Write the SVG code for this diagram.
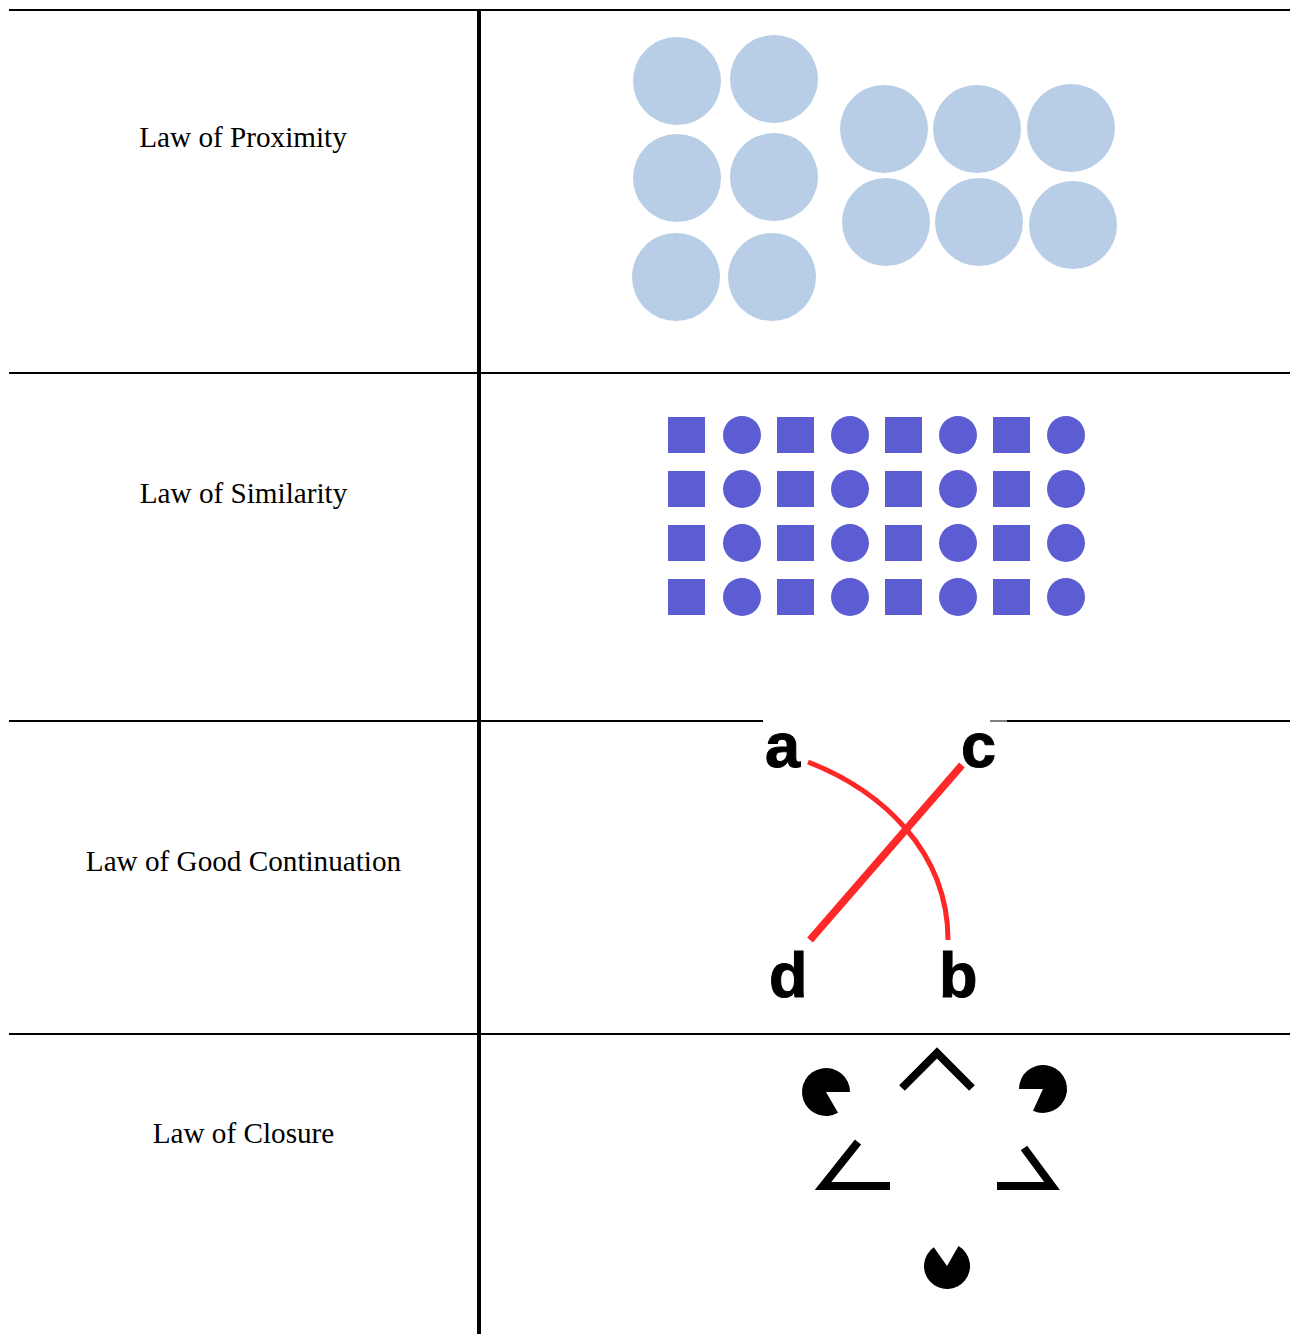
<svg xmlns="http://www.w3.org/2000/svg" width="1293" height="1334" viewBox="0 0 1293 1334">
<style>
.lbl{font-family:"Liberation Serif","Times New Roman",serif;font-size:29.2px;fill:#000;text-anchor:middle}
.hl{stroke:#000;stroke-width:2}
.vl{stroke:#000;stroke-width:4}
.pc{fill:#b8cee7}
.sq{fill:#5d5dd3}
.let{font-family:"Liberation Sans",Arial,sans-serif;font-weight:bold;font-size:63px;fill:#000;stroke:#000;stroke-width:1}
.red{fill:none;stroke:#ff2828;stroke-linecap:butt}
.chev{fill:none;stroke:#000;stroke-width:8;stroke-linejoin:miter}
</style>
<rect width="1293" height="1334" fill="#fff"/>
<g id="grid">
<line class="hl" x1="9" y1="10" x2="1290" y2="10"/>
<line class="hl" x1="9" y1="373" x2="1290" y2="373"/>
<line class="hl" x1="9" y1="721" x2="763" y2="721"/>
<line stroke="#000" stroke-width="1" x1="990" y1="721" x2="1007" y2="721"/>
<line class="hl" x1="1007" y1="721" x2="1290" y2="721"/>
<line class="hl" x1="9" y1="1034" x2="1290" y2="1034"/>
<line class="vl" x1="479" y1="10" x2="479" y2="1334"/>
</g>
<g id="proximity">
<text class="lbl" x="243" y="147">Law of Proximity</text>
<circle class="pc" cx="677" cy="81" r="44"/>
<circle class="pc" cx="774" cy="79" r="44"/>
<circle class="pc" cx="677" cy="178" r="44"/>
<circle class="pc" cx="774" cy="177" r="44"/>
<circle class="pc" cx="676" cy="277" r="44"/>
<circle class="pc" cx="772" cy="277" r="44"/>
<circle class="pc" cx="884" cy="129" r="44"/>
<circle class="pc" cx="977" cy="129" r="44"/>
<circle class="pc" cx="1071" cy="128" r="44"/>
<circle class="pc" cx="886" cy="222" r="44"/>
<circle class="pc" cx="979" cy="222" r="44"/>
<circle class="pc" cx="1073" cy="225" r="44"/>
</g>
<g id="similarity">
<text class="lbl" x="243.5" y="503">Law of Similarity</text>
<g id="sim-row1">
<rect class="sq" x="668" y="417" width="37" height="36"/><circle class="sq" cx="742" cy="435" r="19"/>
<rect class="sq" x="777" y="417" width="37" height="36"/><circle class="sq" cx="850" cy="435" r="19"/>
<rect class="sq" x="885" y="417" width="37" height="36"/><circle class="sq" cx="958" cy="435" r="19"/>
<rect class="sq" x="993" y="417" width="37" height="36"/><circle class="sq" cx="1066" cy="435" r="19"/>
</g>
<g id="sim-row2">
<rect class="sq" x="668" y="471" width="37" height="36"/><circle class="sq" cx="742" cy="489" r="19"/>
<rect class="sq" x="777" y="471" width="37" height="36"/><circle class="sq" cx="850" cy="489" r="19"/>
<rect class="sq" x="885" y="471" width="37" height="36"/><circle class="sq" cx="958" cy="489" r="19"/>
<rect class="sq" x="993" y="471" width="37" height="36"/><circle class="sq" cx="1066" cy="489" r="19"/>
</g>
<g id="sim-row3">
<rect class="sq" x="668" y="525" width="37" height="36"/><circle class="sq" cx="742" cy="543" r="19"/>
<rect class="sq" x="777" y="525" width="37" height="36"/><circle class="sq" cx="850" cy="543" r="19"/>
<rect class="sq" x="885" y="525" width="37" height="36"/><circle class="sq" cx="958" cy="543" r="19"/>
<rect class="sq" x="993" y="525" width="37" height="36"/><circle class="sq" cx="1066" cy="543" r="19"/>
</g>
<g id="sim-row4">
<rect class="sq" x="668" y="579" width="37" height="36"/><circle class="sq" cx="742" cy="597" r="19"/>
<rect class="sq" x="777" y="579" width="37" height="36"/><circle class="sq" cx="850" cy="597" r="19"/>
<rect class="sq" x="885" y="579" width="37" height="36"/><circle class="sq" cx="958" cy="597" r="19"/>
<rect class="sq" x="993" y="579" width="37" height="36"/><circle class="sq" cx="1066" cy="597" r="19"/>
</g>
</g>
<g id="continuation">
<text class="lbl" x="243.5" y="871">Law of Good Continuation</text>
<path class="red" stroke-width="5" d="M808,762 C880,790 948,850 948,940"/>
<line class="red" stroke-width="7.5" x1="962" y1="765" x2="810" y2="940"/>
<text class="let" x="765" y="767">a</text>
<text class="let" x="961" y="767">c</text>
<text class="let" x="769" y="997">d</text>
<text class="let" x="939" y="997">b</text>
</g>
<g id="closure">
<text class="lbl" x="243.5" y="1143">Law of Closure</text>
<path d="M826,1092 L838,1112.8 A24,24 0 1 1 850,1092 Z"/>
<path d="M1043,1089 L1019,1089 A24,24 0 1 1 1033,1110.8 Z"/>
<path d="M947,1266 L958.5,1246.1 A23,23 0 1 1 933.8,1247.2 Z"/>
<polyline class="chev" points="902,1088 937,1053 972,1088"/>
<polyline class="chev" points="858,1142 823,1186 890,1186"/>
<polyline class="chev" points="1024,1148 1052,1186 997,1186"/>
</g>
</svg>
